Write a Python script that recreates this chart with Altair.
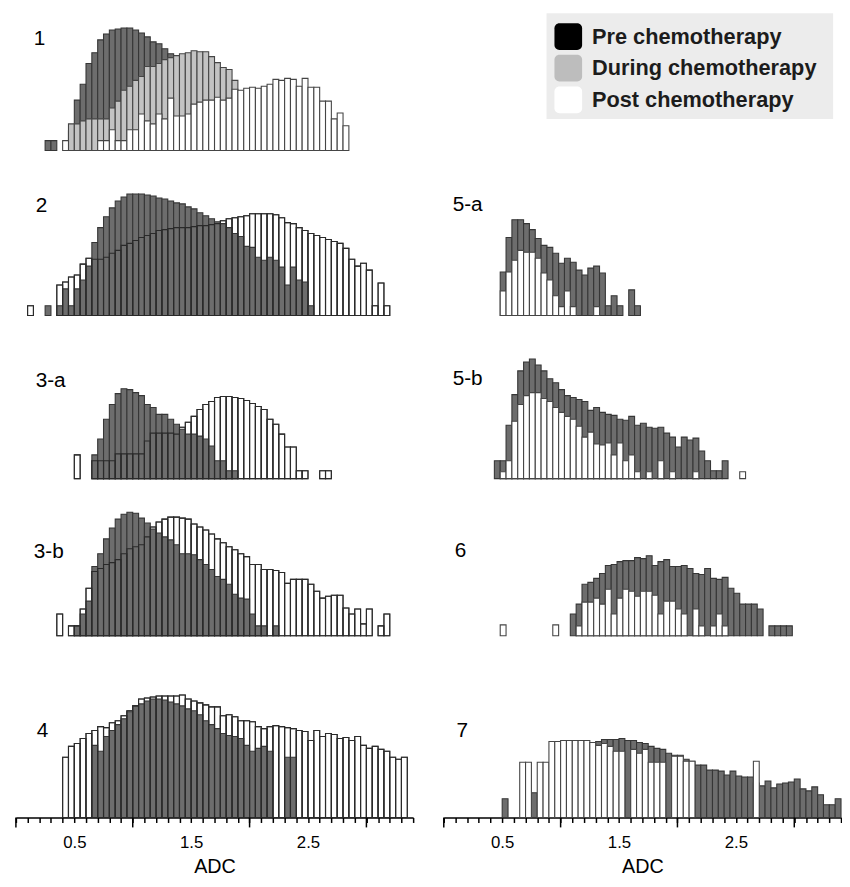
import altair as alt
import pandas as pd

FONT = "Liberation Sans"
BIN_WIDTH = 0.05
X_DOMAIN = [0.0, 3.4]
TICK_VALUES = [0.0, 0.1, 0.2, 0.3, 0.4, 0.5, 0.6, 0.7, 0.8, 0.9, 1.0, 1.1, 1.2, 1.3, 1.4, 1.5,
               1.6, 1.7, 1.8, 1.9, 2.0, 2.1, 2.2, 2.3, 2.4, 2.5, 2.6, 2.7, 2.8, 2.9, 3.0, 3.1,
               3.2, 3.3, 3.4]
MAJOR_TICKS = [0, 1, 2, 3]
TICK_LABELS = ["0.5", "1.5", "2.5"]
GROUPS = ["Pre chemotherapy", "During chemotherapy", "Post chemotherapy"]
PANELS = ["1", "2", "3-a", "3-b", "4", "5-a", "5-b", "6", "7"]

# ---- histogram heights (relative frequency, arbitrary units), bins of 0.05 ADC ----
P1_PRE_START = 0.25
P1_PRE = [10, 10, 0, 0, 20, 51, 67, 88, 99, 112, 118, 122, 123, 124, 124, 122, 119, 115, 110,
          108, 103, 98, 96, 90, 85, 80, 75, 70, 65, 60, 55, 50, 45, 40, 35, 30]
P1_DURING_START = 0.45
P1_DURING = [27, 27, 30, 32, 32, 32, 32, 43, 50, 61, 65, 71, 75, 85, 85, 88, 92, 94, 96, 98,
             99, 101, 100, 100, 95, 89, 84, 82, 71, 60, 50, 40]
P1_POST_START = 0.40
P1_POST = [10, 0, 0, 0, 0, 0, 10, 10, 21, 10, 10, 21, 21, 37, 30, 27, 37, 32, 53, 35, 35, 37,
           47, 49, 51, 51, 54, 51, 53, 62, 61, 63, 64, 63, 65, 67, 72, 71, 73, 72, 65, 73, 64,
           64, 50, 50, 32, 38, 25]

P2_PRE_START = 0.25
P2_PRE = [10, 0, 10, 27, 10, 27, 36, 50, 74, 89, 100, 109, 116, 120, 123, 123, 123, 122, 121,
          119, 118, 116, 114, 113, 110, 108, 104, 101, 98, 95, 93, 89, 83, 80, 70, 69, 59, 56,
          59, 56, 49, 31, 49, 36, 34, 10]
P2_POST_START = 0.10
P2_POST = [10, 0, 0, 0, 0, 31, 34, 39, 41, 52, 58, 57, 57, 59, 63, 66, 71, 73, 76, 79, 81, 83,
           86, 87, 88, 89, 89, 89, 90, 91, 91, 92, 93, 96, 98, 99, 100, 101, 103, 103, 103, 103,
           102, 99, 94, 93, 89, 86, 83, 81, 79, 77, 75, 73, 68, 57, 50, 53, 46, 10, 33, 10]

P3A_PRE_START = 0.65
P3A_PRE = [24, 40, 60, 75, 86, 91, 90, 87, 84, 75, 72, 65, 65, 60, 55, 50, 45, 45, 43, 40, 33,
           18, 18, 8, 8]
P3A_POST_START = 0.50
P3A_POST = [24, 0, 0, 18, 18, 18, 18, 25, 25, 25, 25, 25, 38, 46, 46, 46, 46, 45, 52, 57, 63,
            70, 75, 78, 82, 83, 83, 82, 81, 79, 76, 73, 70, 60, 55, 45, 32, 32, 8, 8, 0, 0, 8, 8]

P3B_PRE_START = 0.50
P3B_PRE = [10, 22, 35, 70, 83, 98, 109, 118, 123, 125, 124, 119, 114, 108, 104, 100, 97, 92,
           83, 83, 82, 77, 72, 67, 60, 57, 52, 42, 38, 37, 22, 10, 10, 0, 10]
P3B_POST_START = 0.35
P3B_POST = [22, 0, 10, 10, 27, 48, 65, 68, 72, 74, 77, 83, 88, 90, 92, 100, 110, 115, 118, 120,
            120, 119, 118, 113, 110, 107, 103, 98, 94, 90, 87, 83, 80, 72, 72, 67, 67, 66, 64,
            53, 57, 57, 57, 52, 45, 38, 40, 41, 41, 28, 22, 27, 12, 27, 0, 10, 22]

P4_PRE_START = 0.65
P4_PRE = [73, 67, 82, 88, 94, 100, 107, 113, 115, 118, 120, 120, 119, 117, 115, 113, 110, 108,
          104, 98, 94, 90, 85, 83, 82, 80, 73, 67, 70, 72, 67, 0, 0, 61, 61]
P4_POST_START = 0.40
P4_POST = [61, 72, 75, 80, 85, 88, 92, 91, 96, 98, 103, 108, 113, 120, 121, 122, 123, 123, 123,
           123, 124, 120, 118, 116, 114, 112, 112, 103, 104, 102, 98, 98, 97, 92, 90, 92, 93, 92,
           91, 90, 88, 87, 78, 88, 82, 85, 84, 80, 81, 78, 82, 73, 70, 72, 69, 67, 61, 59, 61]

P5A_PRE_START = 0.50
P5A_PRE = [44, 79, 97, 97, 93, 87, 78, 71, 69, 63, 53, 58, 54, 46, 41, 48, 50, 43, 10, 20, 10,
           0, 26, 10]
P5A_POST_START = 0.50
P5A_POST = [25, 44, 56, 66, 64, 64, 58, 43, 36, 20, 9, 25, 9, 0, 0, 0, 9]

P5B_PRE_START = 0.45
P5B_PRE = [18, 18, 54, 85, 109, 118, 121, 115, 109, 101, 97, 90, 84, 82, 80, 78, 69, 72, 67, 65,
           64, 60, 59, 63, 54, 56, 52, 51, 52, 46, 42, 32, 42, 39, 41, 28, 18, 8, 8, 18]
P5B_POST_START = 0.50
P5B_POST = [7, 18, 58, 75, 84, 87, 87, 81, 78, 72, 67, 63, 60, 53, 42, 47, 35, 34, 36, 24, 36,
            18, 24, 7, 0, 7, 0, 18, 0, 7, 0, 0, 0, 7, 0, 0, 0, 0, 0, 0, 0, 7]

P6_PRE_START = 1.10
P6_PRE = [22, 32, 52, 54, 58, 63, 71, 72, 75, 76, 76, 79, 78, 81, 71, 75, 77, 70, 70, 71, 68,
          63, 62, 68, 58, 57, 59, 48, 43, 32, 32, 32, 27, 0, 10, 10, 10, 10]
P6_POST_START = 0.50
P6_POST = [11, 0, 0, 0, 0, 0, 0, 0, 0, 11, 0, 0, 0, 10, 34, 34, 38, 32, 47, 22, 38, 47, 45, 40,
           45, 45, 41, 22, 35, 35, 27, 22, 0, 27, 10, 0, 10, 22, 10]

P7_PRE_START = 0.50
P7_PRE = [19, 0, 0, 0, 0, 25, 0, 0, 0, 0, 0, 0, 0, 0, 0, 76, 77, 79, 79, 79, 80, 78, 78, 76, 75,
          72, 70, 69, 65, 63, 63, 59, 57, 53, 53, 48, 48, 47, 43, 47, 42, 41, 41, 35, 32, 37, 30,
          34, 35, 36, 39, 29, 27, 31, 23, 13, 13, 19]
P7_POST_START = 0.65
P7_POST = [56, 56, 0, 56, 56, 77, 77, 78, 78, 78, 78, 78, 76, 73, 75, 72, 67, 67, 0, 69, 65, 69,
           56, 56, 56, 0, 62, 62, 57, 57, 0, 0, 0, 0, 0, 0, 0, 0, 0, 0, 57]

PRE, DUR, POST = GROUPS

SERIES = [
    ("1", PRE, P1_PRE_START, P1_PRE), ("1", DUR, P1_DURING_START, P1_DURING),
    ("1", POST, P1_POST_START, P1_POST),
    ("2", PRE, P2_PRE_START, P2_PRE), ("2", POST, P2_POST_START, P2_POST),
    ("3-a", PRE, P3A_PRE_START, P3A_PRE), ("3-a", POST, P3A_POST_START, P3A_POST),
    ("3-b", PRE, P3B_PRE_START, P3B_PRE), ("3-b", POST, P3B_POST_START, P3B_POST),
    ("4", PRE, P4_PRE_START, P4_PRE), ("4", POST, P4_POST_START, P4_POST),
    ("5-a", PRE, P5A_PRE_START, P5A_PRE), ("5-a", POST, P5A_POST_START, P5A_POST),
    ("5-b", PRE, P5B_PRE_START, P5B_PRE), ("5-b", POST, P5B_POST_START, P5B_POST),
    ("6", PRE, P6_PRE_START, P6_PRE), ("6", POST, P6_POST_START, P6_POST),
    ("7", PRE, P7_PRE_START, P7_PRE), ("7", POST, P7_POST_START, P7_POST),
]

rows = []
for panel, group, start, values in SERIES:
    for i, v in enumerate(values):
        if v > 0:
            x0 = round(start + i * BIN_WIDTH, 3)
            rows.append({"panel": panel, "group": group, "x0": x0,
                         "x1": round(x0 + BIN_WIDTH, 3), "v": v})
df = pd.DataFrame(rows)

# ---- styling / layout ----
STYLE = {
    PRE: dict(fill="#6d6d6d", stroke="#363636"),
    DUR: dict(fill="#c3c3c3", stroke="#454545"),
    POST: dict(fill="#ffffff", stroke="#454545"),
}
PANEL_W = 402
ROW_H = [139, 158, 156, 150, 175]
LABEL_POS = {"1": (18, 26), "2": (20, 47), "3-a": (20, 57), "3-b": (18, 65), "4": (21, 88),
             "5-a": (11, 46), "5-b": (11, 55), "6": (13, 64), "7": (13, 88)}
# draw order: (group, outline_only)
FRONT_PRE = [(POST, False), (PRE, False), (POST, True)]
FRONT_POST = [(PRE, False), (DUR, False), (POST, False)]
ORDER = {"1": FRONT_POST, "2": FRONT_PRE, "3-a": FRONT_PRE, "3-b": FRONT_PRE, "4": FRONT_PRE,
         "5-a": FRONT_POST, "5-b": FRONT_POST, "6": FRONT_POST, "7": FRONT_POST}

XSCALE = alt.Scale(domain=X_DOMAIN, nice=False, zero=False)
label_list = ",".join("'%s'" % t for t in TICK_LABELS)
AXIS = alt.Axis(values=TICK_VALUES, format=".1f",
                labelExpr="indexof([%s], datum.label) >= 0 ? datum.label : ''" % label_list,
                tickSize=5, tickWidth=1.5, tickColor="black",
                domainColor="black", domainWidth=1.5, grid=False,
                labelFont=FONT, labelFontSize=17, labelColor="black", labelPadding=12,
                labelOverlap=False, labelFlush=False,
                title="ADC", titleFont=FONT, titleFontSize=20, titleFontWeight="normal",
                titleColor="black", titlePadding=7)


def make_panel(name, height, bottom):
    x_axis = AXIS if bottom else None
    layers = []
    for group, outline in ORDER[name]:
        sub = df[(df["panel"] == name) & (df["group"] == group)]
        if len(sub) == 0:
            continue
        st = STYLE[group]
        stroke = "#2a2a2a" if outline else st["stroke"]
        layers.append(
            alt.Chart(sub).mark_bar(fill=st["fill"], stroke=stroke, strokeWidth=1.1,
                                    opacity=1, fillOpacity=0 if outline else 1)
            .encode(x=alt.X("x0:Q", scale=XSCALE, axis=x_axis),
                    x2="x1:Q",
                    y=alt.Y("v:Q", scale=alt.Scale(domain=[0, height]), axis=None),
                    y2=alt.datum(0))
        )
    if bottom:
        layers.append(
            alt.Chart(pd.DataFrame({"t": MAJOR_TICKS})).mark_rule(color="black", strokeWidth=1.5)
            .encode(x=alt.X("t:Q", scale=XSCALE, axis=x_axis),
                    y=alt.value(height), y2=alt.value(height + 10))
        )
    lx, ly = LABEL_POS[name]
    layers.append(
        alt.Chart(pd.DataFrame({"label": [name]})).mark_text(
            align="left", baseline="middle", font=FONT, fontSize=21, color="black")
        .encode(text="label:N", x=alt.value(lx), y=alt.value(ly))
    )
    return alt.layer(*layers).properties(width=PANEL_W, height=height)


def make_legend(height):
    box = alt.Chart(pd.DataFrame({"a": [0]})).mark_rect(fill="#ececec").encode(
        x=alt.value(106), x2=alt.value(396), y=alt.value(0), y2=alt.value(107))
    leg = pd.DataFrame({"g": GROUPS})
    yscale = alt.Scale(domain=GROUPS, range=[7, 104.4], paddingInner=0.156, paddingOuter=0.1)
    swatch = alt.Chart(leg).mark_rect(cornerRadius=5).encode(
        x=alt.value(114), x2=alt.value(142),
        y=alt.Y("g:N", scale=yscale, axis=None, sort=GROUPS),
        color=alt.Color("g:N", scale=alt.Scale(domain=GROUPS,
                                               range=["#000000", "#bdbdbd", "#ffffff"]),
                        legend=None))
    text = alt.Chart(leg).mark_text(align="left", baseline="middle", font=FONT, fontSize=22,
                                    fontWeight="bold", color="#1c1c1c").encode(
        x=alt.value(152), y=alt.Y("g:N", scale=yscale, axis=None, sort=GROUPS), text="g:N")
    return alt.layer(box, swatch, text).properties(width=PANEL_W, height=height)


left = ["1", "2", "3-a", "3-b", "4"]
right = [None, "5-a", "5-b", "6", "7"]
grid_rows = []
for i in range(5):
    bottom = i == 4
    lp = make_panel(left[i], ROW_H[i], bottom)
    rp = make_legend(ROW_H[i]) if right[i] is None else make_panel(right[i], ROW_H[i], bottom)
    grid_rows.append(alt.hconcat(lp, rp, spacing=29))

chart = (alt.vconcat(*grid_rows, spacing=8)
         .properties(padding={"left": 7, "top": 0, "right": 0, "bottom": 0})
         .configure_view(strokeWidth=0, stroke="transparent"))

chart.save("out.html", embed_options={"renderer": "svg", "actions": False})
